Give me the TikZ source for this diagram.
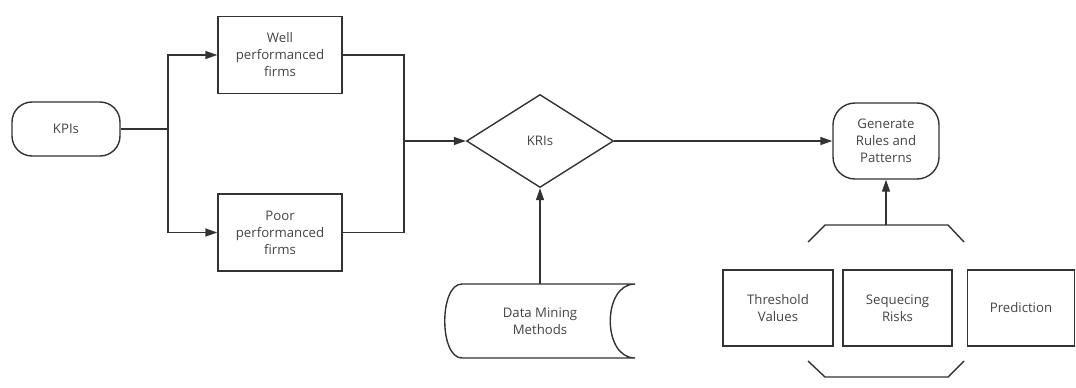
\documentclass[tikz,border=0pt]{standalone}
\usepackage{fontspec}
\setmainfont{Open Sans}
\usetikzlibrary{shapes.geometric,arrows.meta}
\definecolor{ink}{HTML}{333333}
\definecolor{txt}{HTML}{444444}
\begin{document}
\begin{tikzpicture}[x=1pt,y=-1pt,
  every node/.style={font=\fontsize{13.2}{17}\selectfont, text=txt, align=center, inner sep=0pt},
  line/.style={draw=ink, line width=1.4pt},
  flow/.style={line, -{Triangle[length=12pt,width=8pt]}},
  procbox/.style={line, rectangle, minimum width=#1, minimum height=77pt},
  pill/.style={line, rectangle, rounded corners=20pt},
  decide/.style={line, diamond, minimum width=147pt, minimum height=93pt}
]
\useasboundingbox (0,0) rectangle (1076,388);

% input and split into the two groups of firms
\node[pill, minimum width=108pt, minimum height=54pt] (kpi) at (66,129) {KPIs};
\node[procbox=124pt] (well) at (280,55) {Well\\performanced\\firms};
\node[procbox=124pt] (poor) at (280,232.5) {Poor\\performanced\\firms};
\coordinate (split) at (168,129);
\coordinate (merge) at (404,141);

% key risk indicators and data source
\node[decide] (kri) at (540,141) {KRIs};
\node[minimum width=190pt, minimum height=74pt] (dm) at (540,321) {Data Mining\\Methods};
\draw[line] (462,284) -- (635,284)
  .. controls (602,284) and (602,358) .. (635,358)
  -- (462,358)
  .. controls (439,358) and (439,284) .. (462,284) -- cycle;

% output stage
\node[pill, rounded corners=22pt, minimum width=106pt, minimum height=76pt] (gen) at (886,141) {Generate\\Rules and\\Patterns};
\node[procbox=110pt, minimum height=76pt] (thr) at (778,308) {Threshold\\Values};
\node[procbox=109pt, minimum height=76pt] (seq) at (897.5,308) {Sequecing\\Risks};
\node[procbox=107pt, minimum height=76pt] (pred) at (1021,308) {Prediction};
\coordinate (brace) at (886,225);

% brackets around the result boxes
\draw[line] (808,242) -- (825,225) -- (948,225) -- (964,242);
\draw[line] (808,361) -- (825,377) -- (948,377) -- (964,361);

% connectors
\draw[line] (kpi.east) -- (split);
\draw[flow] (split) |- (well.west);
\draw[flow] (split) |- (poor.west);
\draw[line] (well.east) -| (merge);
\draw[line] (poor.east) -| (merge);
\draw[flow] (merge) -- (kri.west);
\draw[flow] (dm.north) -- (kri.south);
\draw[flow] (kri.east) -- (gen.west);
\draw[flow] (brace) -- (gen.south);
\end{tikzpicture}
\end{document}
